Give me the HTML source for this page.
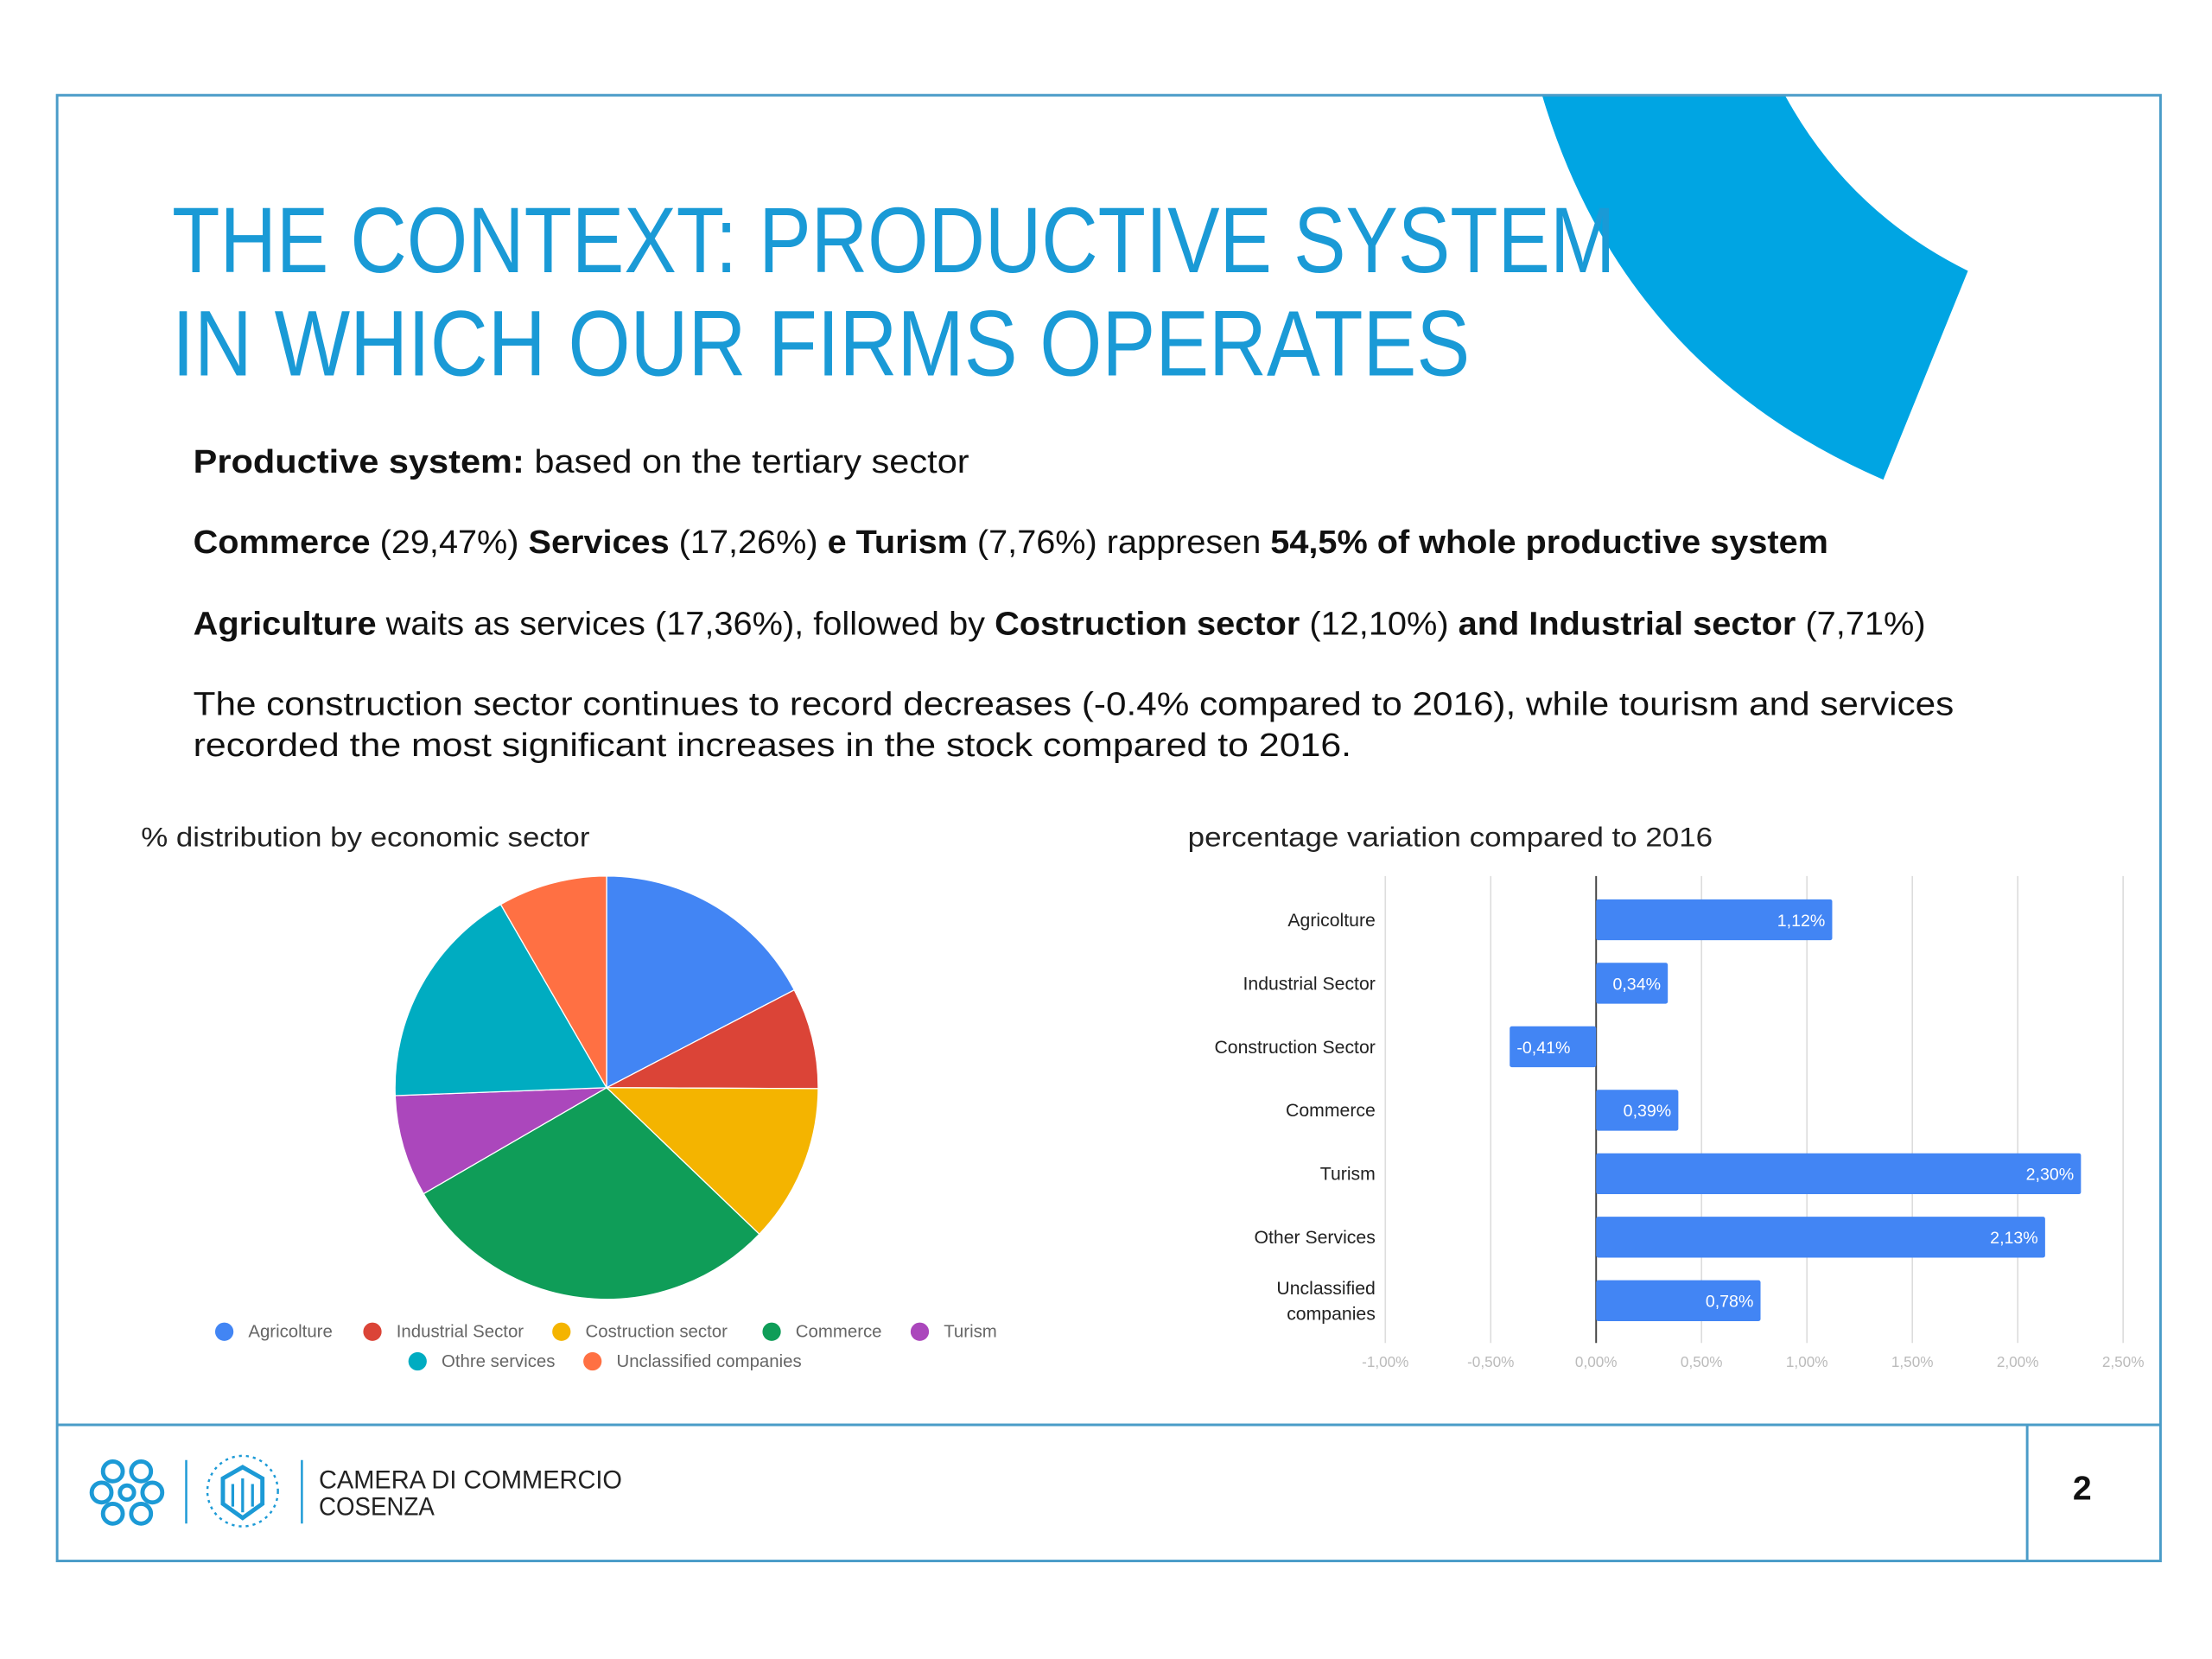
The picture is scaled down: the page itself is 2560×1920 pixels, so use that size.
<!DOCTYPE html>
<html><head><meta charset="utf-8"><style>
html,body{margin:0;padding:0;background:#fff}
svg{display:block}
text{font-family:"Liberation Sans","DejaVu Sans",sans-serif}
</style></head><body>
<svg id="page" width="2560" height="1920" viewBox="0 0 1568 1176" xmlns="http://www.w3.org/2000/svg">
<rect x="0" y="0" width="1568" height="1176" fill="#fff"/>
<path d="M1093,67 Q1150,260 1335,340 L1395,192 Q1310,150 1265,67 Z" fill="#00a5e3"/>
<rect x="40.5" y="67.5" width="1491" height="1039" fill="none" stroke="#4a9cc8" stroke-width="1.8"/>
<line x1="40" y1="1010" x2="1532" y2="1010" stroke="#4a9cc8" stroke-width="1.8"/>
<line x1="1437" y1="1010" x2="1437" y2="1107" stroke="#4a9cc8" stroke-width="1.8"/>

<g fill="#1a9ad6" font-size="66">
<text x="122" y="193" textLength="1023" lengthAdjust="spacingAndGlyphs">THE CONTEXT: PRODUCTIVE SYSTEM</text>
<text x="122" y="266" textLength="920" lengthAdjust="spacingAndGlyphs">IN WHICH OUR FIRMS OPERATES</text>
</g>

<g font-size="23" fill="#111">
<text x="137" y="335" textLength="550" lengthAdjust="spacingAndGlyphs"><tspan font-weight="bold">Productive system:</tspan>  based on the tertiary sector</text>
<text x="137" y="392" textLength="1159" lengthAdjust="spacingAndGlyphs"><tspan font-weight="bold">Commerce</tspan> (29,47%) <tspan font-weight="bold">Services</tspan> (17,26%) <tspan font-weight="bold">e Turism</tspan> (7,76%) rappresen <tspan font-weight="bold">54,5%  of whole productive system</tspan></text>
<text x="137" y="450" textLength="1228" lengthAdjust="spacingAndGlyphs"><tspan font-weight="bold">Agriculture</tspan> waits as services (17,36%), followed by <tspan font-weight="bold">Costruction sector</tspan> (12,10%) <tspan font-weight="bold">and Industrial sector</tspan>  (7,71%)</text>
<text x="137" y="507" textLength="1248" lengthAdjust="spacingAndGlyphs">The construction sector continues to record decreases (-0.4% compared to 2016), while tourism and services</text>
<text x="137" y="536" textLength="821" lengthAdjust="spacingAndGlyphs">recorded the most significant increases in the stock compared to 2016.</text>
</g>

<text x="100" y="600" font-size="19" fill="#222" textLength="318" lengthAdjust="spacingAndGlyphs">% distribution by economic sector</text>
<g id="pie"></g>
<g id="pieLegend"></g>

<text x="842" y="600" font-size="19" fill="#222" textLength="372" lengthAdjust="spacingAndGlyphs">percentage variation compared to 2016</text>
<g id="bars"></g>

<g>
<g fill="none" stroke="#1c9ad6" stroke-width="3">
<circle cx="80" cy="1043" r="7"/><circle cx="100" cy="1043" r="7"/><circle cx="72" cy="1058" r="7"/><circle cx="108" cy="1058" r="7"/><circle cx="80" cy="1073" r="7"/><circle cx="100" cy="1073" r="7"/><circle cx="90" cy="1058" r="5"/>
</g>
<line x1="132" y1="1035" x2="132" y2="1080" stroke="#1c9ad6" stroke-width="1.5"/>
<g fill="none" stroke="#1c9ad6">
<circle cx="172" cy="1057" r="25" stroke-dasharray="2 3" stroke-width="1.5"/>
<path d="M172,1040 L186,1048 L186,1066 L172,1076 L158,1066 L158,1048 Z" stroke-width="3"/>
<path d="M165,1052 L165,1068 M172,1048 L172,1072 M179,1052 L179,1068" stroke-width="2"/>
</g>
<line x1="214" y1="1035" x2="214" y2="1080" stroke="#1c9ad6" stroke-width="1.5"/>
<text x="226" y="1055" font-size="18" fill="#222" textLength="215" lengthAdjust="spacingAndGlyphs">CAMERA DI COMMERCIO</text>
<text x="226" y="1074" font-size="18" fill="#222" textLength="82" lengthAdjust="spacingAndGlyphs">COSENZA</text>
</g>
<text x="1476" y="1063" font-size="24" font-weight="bold" text-anchor="middle" fill="#111">2</text>
</svg>
<script>
const NS="http://www.w3.org/2000/svg";
const pieLabels=["Agricolture","Industrial Sector","Costruction sector","Commerce","Turism","Othre services","Unclassified companies"];
const pieValues=[17.36,7.71,12.10,29.47,7.76,17.26,8.34];
const pieColors=["#4285f4","#db4437","#f4b400","#0f9d58","#ab47bc","#00acc1","#ff7043"];

const barCategories=["Agricolture","Industrial Sector","Construction Sector","Commerce","Turism","Other Services","Unclassified companies"];
const barValues=[1.12,0.34,-0.41,0.39,2.30,2.13,0.78];
const barValueLabels=["1,12%","0,34%","-0,41%","0,39%","2,30%","2,13%","0,78%"];
const tickValues=[-1,-0.5,0,0.5,1,1.5,2,2.5];
const tickLabels=["-1,00%","-0,50%","0,00%","0,50%","1,00%","1,50%","2,00%","2,50%"];

function mk(tag,attrs,parent){const e=document.createElementNS(NS,tag);for(const k in attrs)e.setAttribute(k,attrs[k]);parent.appendChild(e);return e;}

// Pie
const pie=document.getElementById('pie');
const cx=430,cy=771,r=150;
const total=pieValues.reduce((a,b)=>a+b,0);
let acc=0;
function pt(a){return [cx+r*Math.sin(a),cy-r*Math.cos(a)];}
pieValues.forEach((v,i)=>{
  const a0=acc/total*2*Math.PI; acc+=v; const a1=acc/total*2*Math.PI;
  const p0=pt(a0),p1=pt(a1);
  const large=(a1-a0)>Math.PI?1:0;
  const p=mk('path',{d:`M${cx},${cy} L${p0[0]},${p0[1]} A${r},${r} 0 ${large} 1 ${p1[0]},${p1[1]} Z`,fill:pieColors[i],stroke:'#fff','stroke-width':0.8},pie);
  
  
});

// Legend
const leg=document.getElementById('pieLegend');
const legX=[159,264,398,547,652,296,420];
const legY=[948,948,948,948,948,969,969];
pieLabels.forEach((l,i)=>{
  const g=mk('g',{},leg);
  
  
  mk('circle',{cx:legX[i],cy:legY[i]-4,r:6.5,fill:pieColors[i]},g);
  const t=mk('text',{x:legX[i]+17,y:legY[i],'font-size':12.5,fill:'#666'},g);
  t.textContent=l;
});

// Bars
const bars=document.getElementById('bars');
const xMin=-1,xMax=2.5,px0=982,px1=1505;
const X=v=>px0+(v-xMin)/(xMax-xMin)*(px1-px0);
const gridTop=621,gridBottom=952,rowStep=45,firstY=652,bh=29;
const Y=i=>firstY+i*rowStep;
tickValues.forEach((t,i)=>{
  const g=mk('line',{x1:X(t),x2:X(t),y1:gridTop,y2:gridBottom,stroke:t===0?'#444':'#ddd','stroke-width':t===0?1.2:1},bars);
  
  
  const tl=mk('text',{x:X(t),y:969,'font-size':10.5,fill:'#bbb','text-anchor':'middle'},bars);
  
  
  tl.textContent=tickLabels[i];
});
barCategories.forEach((c,i)=>{
  const v=barValues[i];
  const x0=X(Math.min(0,v)),w=Math.abs(X(v)-X(0));
  const b=mk('rect',{x:x0,y:Y(i)-bh/2,width:w,height:bh,rx:1.5,fill:'#4285f4'},bars);
  
  
  const vl=mk('text',{'font-size':12,fill:'#fff',y:Y(i)+4.5},bars);
  
  
  if(v<0){vl.setAttribute('x',X(v)+5);}else{vl.setAttribute('x',X(v)-5);vl.setAttribute('text-anchor','end');}
  vl.textContent=barValueLabels[i];
  const words=c==="Unclassified companies"?["Unclassified","companies"]:[c];
  words.forEach((w2,k)=>{
    const t=mk('text',{x:975,y:Y(i)+4.5+(words.length>1?(k===0?-9:9):0),'font-size':13,fill:'#222','text-anchor':'end'},bars);
    
    
    t.textContent=w2;
  });
});
</script>
</body></html>
